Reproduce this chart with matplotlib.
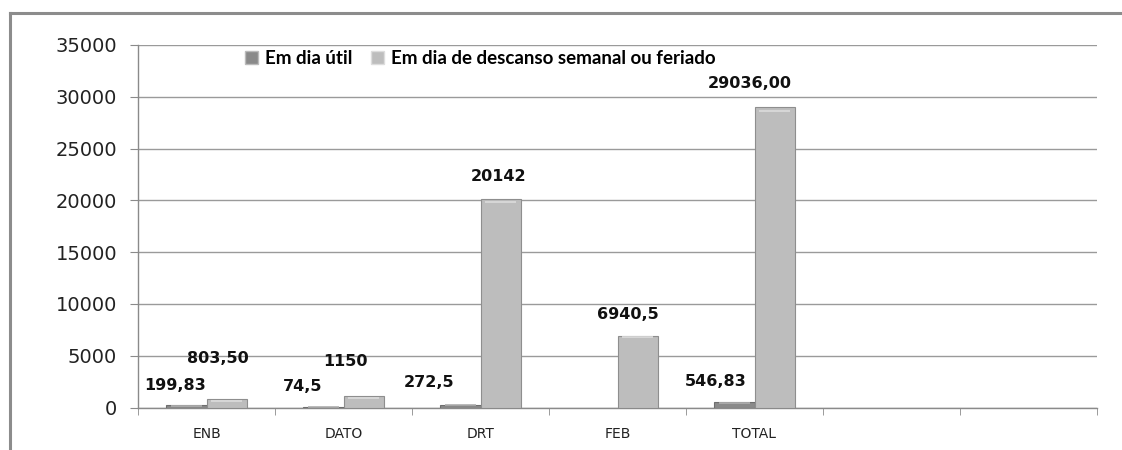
import matplotlib
matplotlib.use("Agg")
import matplotlib.pyplot as plt
import numpy as np
from matplotlib.lines import Line2D
from matplotlib.patches import Patch

categories = ["ENB", "DATO", "DRT", "FEB", "TOTAL", "", ""]
series_names = ["Em dia útil", "Em dia de descanso semanal ou feriado"]
util_values = [199.83, 74.5, 272.5, np.nan, 546.83, np.nan, np.nan]
descanso_values = [803.5, 1150, 20142, 6940.5, 29036.0, np.nan, np.nan]
util_labels = ["199,83", "74,5", "272,5", "", "546,83", "", ""]
descanso_labels = ["803,50", "1150", "20142", "6940,5", "29036,00", "", ""]
yticks = [0, 5000, 10000, 15000, 20000, 25000, 30000, 35000]

# label offsets (pixels, dx, dy above bar top)
util_offsets = [(-11, 20), (-21, 20), (-31, 22), (0, 0), (-19, 20), (0, 0), (0, 0)]
desc_offsets = [(-9, 41), (-18, 34), (-2, 22), (-10, 21), (-25, 23), (0, 0), (0, 0)]

W, H, DPI = 1122, 450, 100
fig = plt.figure(figsize=(W / DPI, H / DPI), dpi=DPI)
fig.patch.set_facecolor("white")

ax_left, ax_right, ax_bottom, ax_top = 138, 1097, 407.5, 45
ax = fig.add_axes([ax_left / W, (H - ax_bottom) / H,
                   (ax_right - ax_left) / W, (ax_bottom - ax_top) / H])

x = np.arange(len(categories))
bw = 0.292
c1, e1 = "#8a8a8a", "#6e6e6e"
c2, e2 = "#bdbdbd", "#8e8e8e"
b1 = ax.bar(x - bw / 2, util_values, width=bw, color=c1, edgecolor=e1, linewidth=0.8, zorder=3)
b2 = ax.bar(x + bw / 2, descanso_values, width=bw, color=c2, edgecolor=e2, linewidth=0.8, zorder=3)

# bevel highlight on bars
for bars, light in ((b1, "#b0b0b0"), (b2, "#dcdcdc")):
    for r in bars:
        h = r.get_height()
        if not np.isfinite(h) or h <= 0:
            continue
        x0, w = r.get_x(), r.get_width()
        ax.plot([x0 + w * 0.12, x0 + w * 0.88], [h * 0.985 if h > 3000 else h * 0.8] * 2,
                color=light, lw=1.2, zorder=4, solid_capstyle="butt")

to_pt = 72 / DPI
for vals, labs, offs, bars in ((util_values, util_labels, util_offsets, b1),
                               (descanso_values, descanso_labels, desc_offsets, b2)):
    for v, lab, off, r in zip(vals, labs, offs, bars):
        if not lab:
            continue
        ax.annotate(lab, xy=(r.get_x() + r.get_width() / 2, v),
                    xytext=(off[0] * to_pt, off[1] * to_pt), textcoords="offset points",
                    ha="center", va="center", fontsize=11.5, fontweight="bold",
                    color="#111111", zorder=5)

ax.set_xlim(-0.5, len(categories) - 0.5)
ax.set_ylim(0, 35000)
ax.set_yticks(yticks)
ax.set_yticklabels([str(t) for t in yticks], fontsize=14, color="#222222")
ax.set_xticks(x[:5])
ax.set_xticklabels(categories[:5], fontsize=10, color="#222222")
ax.set_xticks(np.arange(len(categories) + 1) - 0.5, minor=True)
ax.tick_params(axis="x", which="major", length=0, pad=14)
ax.tick_params(axis="x", which="minor", length=5, color="#8a8a8a", direction="out")
ax.tick_params(axis="y", length=6, color="#8a8a8a", pad=9)
ax.grid(axis="y", color="#9a9a9a", linewidth=1.0, zorder=0)
ax.set_axisbelow(True)
for s in ("top", "right"):
    ax.spines[s].set_visible(False)
for s in ("left", "bottom"):
    ax.spines[s].set_color("#8a8a8a")
    ax.spines[s].set_linewidth(1.0)

handles = [Patch(facecolor=c1, edgecolor="#bbbbbb"), Patch(facecolor=c2, edgecolor="#dddddd")]
leg = ax.legend(handles, series_names, loc="center", bbox_to_anchor=(0.357, 0.962),
                ncol=2, frameon=False, handlelength=0.7, handleheight=0.7,
                handletextpad=0.35, columnspacing=1.0,
                prop={"family": "Lato", "weight": "bold", "size": 13.5})

# outer frame
fig.add_artist(Line2D([10 / W, 10 / W], [0, 1 - 13 / H], transform=fig.transFigure,
                      color="#8c8c8c", lw=2.2))
fig.add_artist(Line2D([10 / W, 1], [1 - 13 / H, 1 - 13 / H], transform=fig.transFigure,
                      color="#8c8c8c", lw=2.2))

fig.savefig("out.png", dpi=DPI)
